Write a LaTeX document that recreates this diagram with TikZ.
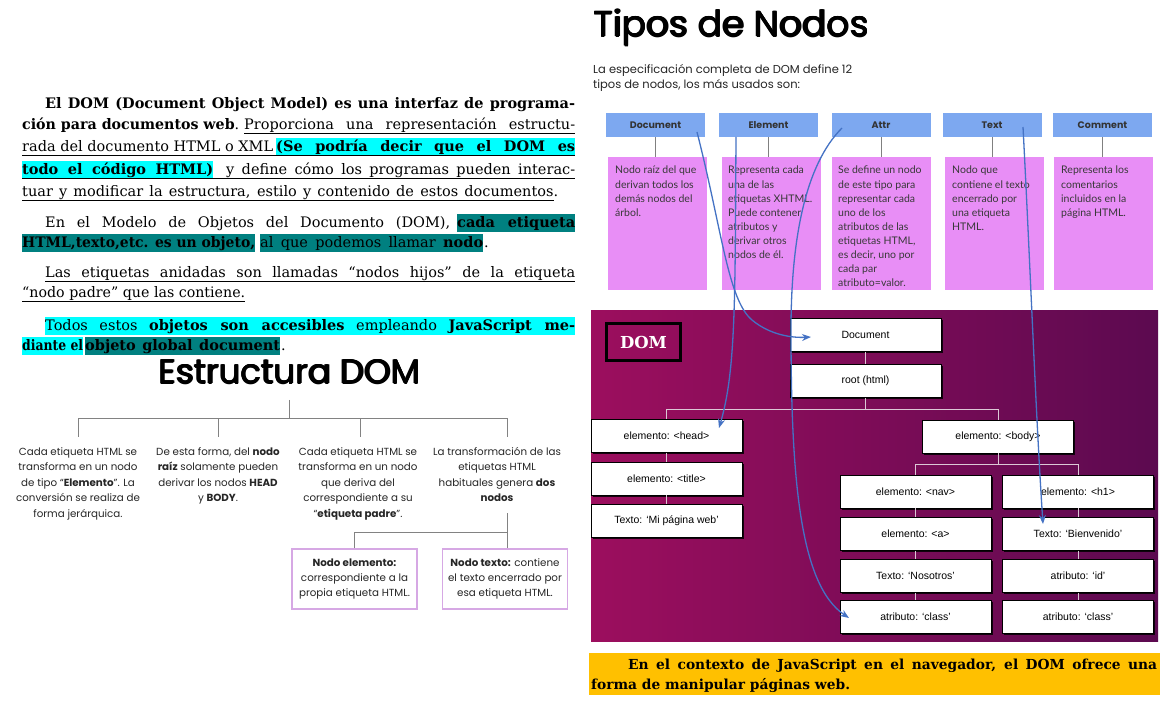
\documentclass[tikz,border=0pt]{standalone}
\usepackage{fontspec}
\usepackage{graphicx}
\usetikzlibrary{arrows.meta,shadows,calc}
\newfontfamily\serf{DejaVu Serif}
\newfontfamily\pop{Poppins}
\newfontfamily\lato{Lato}
\newfontfamily\lib{Liberation Sans}
\definecolor{hlcyan}{RGB}{0,255,255}
\definecolor{hlteal}{RGB}{0,128,128}
\definecolor{pinkbox}{RGB}{232,142,246}
\definecolor{hdrblue}{RGB}{125,168,240}
\definecolor{arrblue}{RGB}{68,114,196}
\definecolor{barorange}{RGB}{255,192,0}
\definecolor{lav}{RGB}{214,168,228}
\definecolor{magA}{RGB}{156,14,94}
\definecolor{magB}{RGB}{92,10,80}
\definecolor{treegray}{RGB}{130,130,130}
\definecolor{domline}{RGB}{220,200,214}
\newcommand\fitbox[2]{\setbox0\hbox{#2}\ifdim\wd0>#1\relax\resizebox{#1}{\height}{\box0}\else\makebox[#1][s]{#2}\fi}
\newcommand\seg[6]{\node[segst,fill=#5] (#1) at (#2,#3) {\fitbox{#4pt}{#6}};}
\newcommand\heavy[1]{\makebox[0pt][l]{\kern1.4pt#1}\makebox[0pt][l]{\kern0.7pt#1}\makebox[0pt][l]{\kern0.7pt\raisebox{0.6pt}{#1}}\makebox[0pt][l]{\kern0.7pt\raisebox{-0.3pt}{#1}}#1}
\tikzset{
  segst/.style={anchor=base west, inner xsep=0pt, inner ysep=0.6pt, text height=13.8pt, text depth=3.8pt, font=\serf\fontsize{14.5}{16}\selectfont},
  ybst/.style={anchor=base west, inner sep=0pt, font=\serf\bfseries\fontsize{13.8}{15}\selectfont, text=black},
  ul/.style={draw=black, line width=0.8pt},
  tree/.style={draw=treegray, line width=0.9pt},
  treetxt/.style={anchor=north, align=center, inner sep=0pt, font=\pop\fontsize{10.3}{15.5}\selectfont, text=black!85},
  lavbox/.style={draw=lav, line width=1.3pt, minimum width=125pt, minimum height=60pt, align=center, inner sep=0pt, font=\pop\fontsize{10.3}{15}\selectfont, text=black!85},
  hdr/.style={fill=hdrblue, minimum width=99pt, minimum height=24pt, inner sep=0pt, font=\pop\bfseries\fontsize{9.5}{11}\selectfont, text=black!80},
  pink/.style={fill=pinkbox, minimum width=99pt, minimum height=133pt, inner sep=0pt},
  pinktxt/.style={anchor=north west, align=left, inner sep=0pt, font=\lato\fontsize{10.5}{14.1}\selectfont, text=black!78},
  hdrline/.style={draw=gray, line width=0.9pt},
  dombox/.style={fill=white, draw=black, line width=0.8pt, minimum width=151pt, minimum height=33pt, inner sep=0pt, font=\lib\fontsize{10.5}{12}\selectfont, drop shadow={shadow xshift=1.5pt, shadow yshift=-1.8pt, fill=black, opacity=0.85}},
  dline/.style={draw=domline, line width=1pt},
  barrow/.style={draw=arrblue, line width=1.3pt, -{Stealth[length=9pt,width=7pt]}}
}
\begin{document}
\begin{tikzpicture}[x=1pt,y=-1pt]
\useasboundingbox (0,0) rectangle (1163,703);
\fill[white] (0,0) rectangle (1163,703);

% ---------------- left text ----------------
\seg{s1}{45}{109}{530}{none}{\bfseries El DOM (Document Object Model) es una interfaz de programa-}
\seg{s2a}{22}{130}{217}{none}{\textbf{ción para documentos web}.}
\seg{s2b}{244}{130}{331}{none}{Proporciona una representación estructu-}
\seg{s3a}{22}{152}{251}{none}{rada del documento HTML o XML}
\seg{s3b}{276}{152}{299}{hlcyan}{\bfseries (Se podría decir que el DOM es}
\seg{s4a}{22}{175}{191}{hlcyan}{\bfseries todo el código HTML)}
\seg{s4b}{226}{175}{349}{none}{y define cómo los programas pueden interac-}
\seg{s5}{22}{197}{536}{none}{tuar y modificar la estructura, estilo y contenido de estos documentos.}
\seg{s6a}{45}{228}{405}{none}{En el Modelo de Objetos del Documento (DOM),}
\seg{s6b}{457}{228}{118}{hlteal}{\bfseries cada etiqueta}
\seg{s7a}{22}{248}{233}{hlteal}{\bfseries HTML,texto,etc. es un objeto,}
\seg{s7b}{260}{248}{223}{hlteal}{al que podemos llamar \textbf{nodo}}
\node[segst] (s7c) at (484,248) {.};
\seg{s8}{45}{278}{530}{none}{Las etiquetas anidadas son llamadas “nodos hijos” de la etiqueta}
\seg{s9}{22}{298}{223}{none}{“nodo padre” que las contiene.}
\seg{s10}{45}{331}{530}{hlcyan}{Todos estos \textbf{objetos son accesibles} empleando \textbf{JavaScript me-}}
\seg{s11a}{22}{351}{61}{hlcyan}{\bfseries diante el}
\seg{s11b}{85}{351}{195}{hlteal}{\bfseries objeto global document}
\node[segst] (s11c) at (281,351) {.};

\draw[ul] ([yshift=-3pt]s2b.base west) -- ([yshift=-3pt]s2b.base east);
\draw[ul] ([yshift=-3pt]s3a.base west) -- ([yshift=-3pt]s3b.base east);
\draw[ul] ([yshift=-3pt]s4a.base west) -- ([yshift=-3pt]s4b.base east);
\draw[ul] ([yshift=-3pt]s5.base west) -- ([yshift=-3pt,xshift=-4pt]s5.base east);
\draw[ul] ([yshift=-3pt]s8.base west) -- ([yshift=-3pt]s8.base east);
\draw[ul] ([yshift=-3pt]s9.base west) -- ([yshift=-3pt]s9.base east);

% ---------------- Estructura DOM ----------------
\node[anchor=base, inner sep=0pt, font=\pop\fontsize{34}{36}\selectfont] (estr) at (289,384) {\heavy{Estructura DOM}};
\coordinate (t0) at (289,400);
\coordinate (hb) at (289,418);
\coordinate (k1) at (78,437);
\coordinate (k2) at (218,437);
\coordinate (k3) at (360,437);
\coordinate (k4) at (507,437);
\node[treetxt] (c1) at (78,447) {Cada etiqueta HTML se\\transforma en un nodo\\de tipo “\textbf{Elemento}”. La\\conversión se realiza de\\forma jerárquica.};
\node[treetxt] (c2) at (218,447) {De esta forma, del \textbf{nodo}\\\textbf{raíz} solamente pueden\\derivar los nodos \textbf{HEAD}\\y \textbf{BODY}.};
\node[treetxt] (c3) at (358,447) {Cada etiqueta HTML se\\transforma en un nodo\\que deriva del\\correspondiente a su\\“\textbf{etiqueta padre}”.};
\node[treetxt] (c4) at (497,447) {La transformación de las\\etiquetas HTML\\habituales genera \textbf{dos}\\\textbf{nodos}};
\draw[tree] (t0) -- (hb);
\draw[tree] (k1) -- (k1 |- hb) -- (k4 |- hb) -- (k4);
\draw[tree] (k2) -- (k2 |- hb);
\draw[tree] (k3) -- (k3 |- hb);
\node[lavbox] (nb1) at (354.5,579) {\textbf{Nodo elemento:}\\correspondiente a la\\propia etiqueta HTML.};
\node[lavbox] (nb2) at (505,579) {\textbf{Nodo texto:} contiene\\el texto encerrado por\\esa etiqueta HTML.};
\coordinate (b4) at (507,513);
\coordinate (bb) at (507,532);
\draw[tree] (b4) -- (bb);
\draw[tree] (nb1.north) |- (bb) -- (bb |- nb2.north);

% ---------------- Tipos de Nodos ----------------
\node[anchor=base west, inner sep=0pt, font=\pop\fontsize{36}{40}\selectfont] (tipos) at (593,37) {\heavy{Tipos de Nodos}};
\node[anchor=north west, align=left, inner sep=0pt, font=\pop\fontsize{11.5}{15}\selectfont, text=black!85] (sub) at (593,64) {La especificación completa de DOM define 12\\tipos de nodos, los más usados son:};

\node[hdr] (hd1) at (655.5,125) {Document};
\node[hdr] (hd2) at (768.5,125) {Element};
\node[hdr] (hd3) at (881,125) {Attr};
\node[hdr] (hd4) at (992,125) {Text};
\node[hdr] (hd5) at (1102.5,125) {Comment};
\node[pink] (pk1) at (657,223.5) {};
\node[pink] (pk2) at (771,223.5) {};
\node[pink] (pk3) at (881,223.5) {};
\node[pink] (pk4) at (994,223.5) {};
\node[pink] (pk5) at (1103.5,223.5) {};
\foreach \i in {1,...,5} {\draw[hdrline] (hd\i.south) -- (hd\i.south |- pk\i.north);}
\node[pinktxt] (pt1) at (615,166) {Nodo raíz del que\\derivan todos los\\demás nodos del\\árbol.};
\node[pinktxt] (pt2) at (728,166) {Representa cada\\una de las\\etiquetas XHTML.\\Puede contener\\atributos y\\derivar otros\\nodos de él.};
\node[pinktxt] (pt3) at (838,166) {Se define un nodo\\de este tipo para\\representar cada\\uno de los\\atributos de las\\etiquetas HTML,\\es decir, uno por\\cada par\\atributo=valor.};
\node[pinktxt] (pt4) at (952,166) {Nodo que\\contiene el texto\\encerrado por\\una etiqueta\\HTML.};
\node[pinktxt] (pt5) at (1061,166) {Representa los\\comentarios\\incluidos en la\\página HTML.};

% ---------------- DOM panel ----------------
\shade[left color=magA, right color=magB] (591,311) rectangle (1158,641);
\node[draw=black, line width=3pt, minimum width=74pt, minimum height=37pt, inner sep=0pt, text=white, font=\serf\bfseries\fontsize{16.5}{18}\selectfont] (domlbl) at (643.5,342) {DOM};

\node[dombox] (ddoc) at (865.5,335) {Document};
\node[dombox] (droot) at (865.5,381) {root (html)};
\node[dombox] (dhead) at (666.5,436) {elemento: <head>};
\node[dombox] (dtitle) at (666.5,478.5) {elemento: <title>};
\node[dombox] (dmi) at (666.5,521) {Texto: ‘Mi página web’};
\node[dombox] (dbody) at (998,436.5) {elemento: <body>};
\node[dombox] (dnav) at (915.5,491.5) {elemento: <nav>};
\node[dombox] (da) at (915.5,534) {elemento: <a>};
\node[dombox] (dnos) at (915.5,576) {Texto: ‘Nosotros’};
\node[dombox] (dcls1) at (915.5,617) {atributo: ‘class’};
\node[dombox] (dh1) at (1078,491.5) {elemento: <h1>};
\node[dombox] (dbien) at (1078,534) {Texto: ‘Bienvenido’};
\node[dombox] (did) at (1078,576) {atributo: ‘id’};
\node[dombox] (dcls2) at (1078,617) {atributo: ‘class’};

\coordinate (bar1) at (865.5,410);
\coordinate (bar2) at (998,465);
\draw[dline] (ddoc.south) -- (droot.north);
\draw[dline] (droot.south) -- (bar1);
\draw[dline] (dhead.north) -- (dhead.north |- bar1) -- (dbody.north |- bar1) -- (dbody.north);
\draw[dline] (dhead.south) -- (dtitle.north);
\draw[dline] (dtitle.south) -- (dmi.north);
\draw[dline] (dbody.south) -- (bar2);
\draw[dline] (dnav.north) -- (dnav.north |- bar2) -- (dh1.north |- bar2) -- (dh1.north);
\draw[dline] (dnav.south) -- (da.north);
\draw[dline] (da.south) -- (dnos.north);
\draw[dline] (dnos.south) -- (dcls1.north);
\draw[dline] (dh1.south) -- (dbien.north);
\draw[dline] (dbien.south) -- (did.north);
\draw[dline] (did.south) -- (dcls2.north);

% ---------------- yellow bar ----------------
\path[fill=barorange] (589,653) rectangle (1160,695);
\node[ybst] (y1) at (628,669) {\fitbox{529pt}{En el contexto de JavaScript en el navegador, el DOM ofrece una}};
\node[ybst] (y2) at (591,689) {forma de manipular páginas web.};

% ---------------- blue arrows ----------------
\coordinate (a1s) at (697,132);
\coordinate (a1e) at (811,337);
\coordinate (a2s) at (736,137);
\coordinate (a2e) at (719,428);
\coordinate (a3s) at (842,128);
\coordinate (a3e) at (849,618);
\coordinate (a4s) at (1023,127);
\coordinate (a4e) at (1043,524);
\draw[barrow] (a1s) .. controls (722,230) and (728,300) .. (752,320) .. controls (770,335) and (792,338) .. (a1e);
\draw[barrow] (a2s) .. controls (735,300) and (736,370) .. (a2e);
\draw[barrow] (a3s) .. controls (805,165) and (791,240) .. (791,330) .. controls (791,480) and (800,585) .. (a3e);
\draw[barrow] (a4s) .. controls (1030,260) and (1036,420) .. (a4e);
\end{tikzpicture}
\end{document}
